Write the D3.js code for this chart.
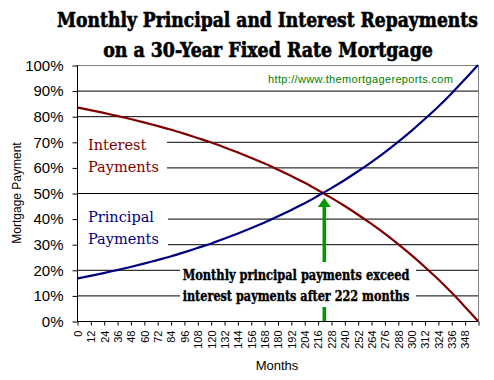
<!DOCTYPE html>
<html>
<head>
<meta charset="utf-8">
<script src="https://cdn.jsdelivr.net/npm/d3@7"></script>
<style>
	body { margin: 0; background: #fff; }
	svg { display: block; }
</style>
</head>
<body>
<svg id="chart"></svg>
<script>
// months sampled every year, shares of the monthly payment (%)
var months = [0, 12, 24, 36, 48, 60, 72, 84, 96, 108, 120, 132, 144, 156, 168, 180,
	192, 204, 216, 228, 240, 252, 264, 276, 288, 300, 312, 324, 336, 348, 360];
var principal = [16.6, 17.6, 18.7, 19.9, 21.1, 22.4, 23.8, 25.2, 26.8, 28.5, 30.2, 32.1, 34.1, 36.2, 38.4, 40.8,
	43.3, 45.9, 48.8, 51.8, 55.0, 58.4, 62.0, 65.8, 69.9, 74.2, 78.8, 83.6, 88.8, 94.3, 100];
var interest = [83.4, 82.4, 81.3, 80.1, 78.9, 77.6, 76.2, 74.8, 73.2, 71.5, 69.8, 67.9, 65.9, 63.8, 61.6, 59.2,
	56.7, 54.1, 51.2, 48.2, 45.0, 41.6, 38.0, 34.2, 30.1, 25.8, 21.2, 16.4, 11.2, 5.7, 0];
var xTicks = [0, 12, 24, 36, 48, 60, 72, 84, 96, 108, 120, 132, 144, 156, 168, 180,
	192, 204, 216, 228, 240, 252, 264, 276, 288, 300, 312, 324, 336, 348];
var yTicks = [0, 10, 20, 30, 40, 50, 60, 70, 80, 90, 100];
var crossMonth = 222;
var titleLines = ["Monthly Principal and Interest Repayments", "on a 30-Year Fixed Rate Mortgage"];
var noteLines = ["Monthly principal payments exceed", "interest payments after 222 months"];

var margin = {
	left: 77,
	right: 16,
	top: 65,
	bottom: 59
}
var width = 494;
var height = 380;

var svg = d3.select("#chart")
	.attr("width", width)
	.attr("height", height);

var xScale = d3.scaleLinear()
	.domain([0, 360])
	.range([margin.left, width - margin.right]);
var yScale = d3.scaleLinear()
	.domain([0, 100])
	.range([height - margin.bottom, margin.top]);

// squeeze a text horizontally so it spans the given width around cx
function fitText(sel, cx, y, w) {
	var natural = sel.node().getComputedTextLength();
	sel.attr("text-anchor", "middle")
		.attr("transform", "translate(" + cx + "," + y + ") scale(" + (w / natural) + ",1)");
}

// gridlines
svg.append("g")
	.selectAll("line")
	.data(yTicks.filter(function (d) { return d > 0 && d < 100; }))
	.enter()
	.append("line")
	.attr("x1", xScale(0))
	.attr("x2", xScale(360))
	.attr("y1", function (d) { return yScale(d) + 0.5; })
	.attr("y2", function (d) { return yScale(d) + 0.5; })
	.attr("stroke", "#000")
	.attr("stroke-width", 1);

// plot border top/right
svg.append("path")
	.attr("d", "M" + xScale(0) + "," + (yScale(100) + 0.5) + "H" + (xScale(360) + 0.5) + "V" + yScale(0))
	.attr("fill", "none")
	.attr("stroke", "#808080");

// green arrow
var ax = xScale(crossMonth);
var tipY = yScale(50) + 5;
svg.append("line")
	.attr("x1", ax)
	.attr("x2", ax)
	.attr("y1", tipY + 8)
	.attr("y2", yScale(0))
	.attr("stroke", "#009900")
	.attr("stroke-width", 3.5);
svg.append("path")
	.attr("d", "M" + ax + "," + tipY + "L" + (ax + 6.5) + "," + (tipY + 9) + "L" + (ax - 6.5) + "," + (tipY + 9) + "Z")
	.attr("fill", "#009900");

// white label boxes
var boxes = [
	{ x: 78, y: 126, w: 89, h: 54 },
	{ x: 78, y: 201, w: 90, h: 50 },
	{ x: 180, y: 262, w: 236, h: 45 }
];
svg.append("g")
	.selectAll("rect")
	.data(boxes)
	.enter()
	.append("rect")
	.attr("x", function (d) { return d.x; })
	.attr("y", function (d) { return d.y; })
	.attr("width", function (d) { return d.w; })
	.attr("height", function (d) { return d.h; })
	.attr("fill", "#fff");

// series labels
var seriesLabels = [
	{ lines: ["Interest", "Payments"], color: "#800000", y: 150 },
	{ lines: ["Principal", "Payments"], color: "#000080", y: 222 }
];
seriesLabels.forEach(function (s) {
	svg.append("text")
		.attr("font-family", "'DejaVu Serif', serif")
		.attr("font-size", 14.5)
		.attr("fill", s.color)
		.selectAll("tspan")
		.data(s.lines)
		.enter()
		.append("tspan")
		.attr("x", 88)
		.attr("y", function (d, i) { return s.y + i * 22; })
		.text(function (d) { return d; });
});

// annotation
svg.append("g")
	.selectAll("text")
	.data(noteLines)
	.enter()
	.append("text")
	.attr("font-family", "'DejaVu Serif Condensed', 'DejaVu Serif', serif")
	.attr("font-weight", "bold")
	.attr("font-size", 15)
	.attr("stroke", "#000")
	.attr("stroke-width", 0.4)
	.text(function (d) { return d; })
	.each(function (d, i) {
		fitText(d3.select(this), 296, 280 + i * 21, 227);
	});

// curves
var line = d3.line()
	.x(function (d, i) { return xScale(months[i]); })
	.y(function (d) { return yScale(d); })
	.curve(d3.curveMonotoneX);
svg.append("path")
	.datum(interest)
	.attr("d", line)
	.attr("fill", "none")
	.attr("stroke", "#800000")
	.attr("stroke-width", 2.2);
svg.append("path")
	.datum(principal)
	.attr("d", line)
	.attr("fill", "none")
	.attr("stroke", "#000080")
	.attr("stroke-width", 2.2);

// axes
var yAxis = d3.axisLeft(yScale)
	.tickValues(yTicks)
	.tickSize(5)
	.tickPadding(9)
	.tickFormat(function (d) { return d + "%"; });
var gy = svg.append("g")
	.attr("transform", "translate(" + (margin.left + 0.5) + ",0.5)")
	.call(yAxis);
gy.select(".domain").attr("d", "M0," + yScale(100) + "V" + yScale(0));
gy.selectAll("text")
	.attr("font-family", "'Liberation Sans', Arial, sans-serif")
	.attr("font-size", 15)
	.attr("fill", "#000");

var xAxis = d3.axisBottom(xScale)
	.tickValues(xTicks.concat([360]))
	.tickSize(4)
	.tickFormat(function (d) { return d < 360 ? d : ""; });
var gx = svg.append("g")
	.attr("transform", "translate(0.5," + (height - margin.bottom + 0.5) + ")")
	.call(xAxis);
gx.select(".domain").attr("d", "M" + xScale(0) + ",0H" + xScale(360));
gx.selectAll("text")
	.attr("font-family", "'Liberation Sans', Arial, sans-serif")
	.attr("font-size", 11)
	.attr("fill", "#000")
	.attr("transform", "rotate(-90)")
	.attr("text-anchor", "end")
	.attr("x", -9)
	.attr("y", 0)
	.attr("dy", "0.35em");

// axis titles
svg.append("text")
	.attr("transform", "translate(21," + yScale(50) + ") rotate(-90)")
	.attr("text-anchor", "middle")
	.attr("font-family", "'Liberation Sans', Arial, sans-serif")
	.attr("font-size", 12)
	.text("Mortgage Payment");
svg.append("text")
	.attr("x", 277)
	.attr("y", 370)
	.attr("text-anchor", "middle")
	.attr("font-family", "'Liberation Sans', Arial, sans-serif")
	.attr("font-size", 13)
	.text("Months");

// title
svg.append("g")
	.selectAll("text")
	.data(titleLines)
	.enter()
	.append("text")
	.attr("font-family", "'DejaVu Serif Condensed', 'DejaVu Serif', serif")
	.attr("font-weight", "bold")
	.attr("font-size", 21)
	.attr("stroke", "#000")
	.attr("stroke-width", 0.6)
	.text(function (d) { return d; })
	.each(function (d, i) {
		fitText(d3.select(this), i === 0 ? 267.5 : 268, 27 + i * 30, i === 0 ? 421 : 330);
	});

svg.append("text")
	.attr("x", 268)
	.attr("y", 83)
	.attr("font-family", "'Liberation Sans', Arial, sans-serif")
	.attr("font-size", 11)
	.attr("fill", "#008000")
	.attr("textLength", 185)
	.text("http://www.themortgagereports.com");
</script>
</body>
</html>
